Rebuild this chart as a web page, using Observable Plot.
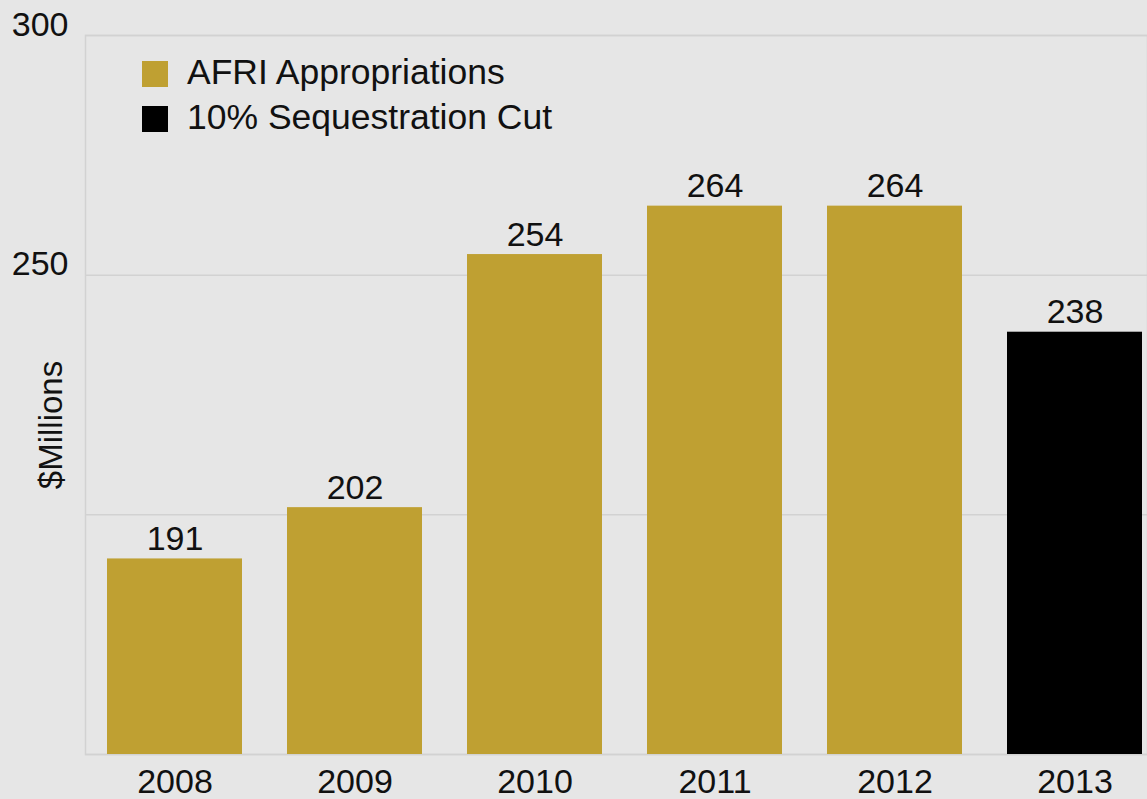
<!DOCTYPE html>
<html>
<head>
<meta charset="utf-8">
<script src="https://cdn.jsdelivr.net/npm/d3@7"></script>
<script src="https://cdn.jsdelivr.net/npm/@observablehq/plot@0.6"></script>
<style>
  html, body { margin: 0; padding: 0; background: #e6e6e6; }
  #chart { position: relative; width: 1147px; height: 799px; overflow: hidden; }
  #legend { position: absolute; left: 142px; top: 61px; font-family: "Liberation Sans", Arial, sans-serif; font-size: 35.5px; color: #111; }
  #legend .row { display: flex; align-items: center; height: 26px; margin-bottom: 19px; }
  #legend .sw { width: 26px; height: 26px; margin-right: 19px; flex-shrink: 0; }
  #legend .lbl { line-height: 26px; position: relative; top: -2px; white-space: nowrap; }
</style>
</head>
<body>
<div id="chart"></div>
<script>
// ---- data ----
const years = ["2008", "2009", "2010", "2011", "2012", "2013"];
const values = [190.8, 201.5, 254.3, 264.4, 264.4, 238.1];
const seriesOf = ["AFRI Appropriations", "AFRI Appropriations", "AFRI Appropriations", "AFRI Appropriations", "AFRI Appropriations", "10% Sequestration Cut"];
const seriesNames = ["AFRI Appropriations", "10% Sequestration Cut"];
const seriesColors = ["#bfa032", "#000000"];
const yDomain = [150, 300];
const gridTicks = [150, 200, 250, 300];
const yTickLabels = [250, 300];
const yLabel = "$Millions";

const data = years.map((year, i) => ({year, value: values[i], series: seriesOf[i]}));
const fmt = d3.format(".0f");

const chart = Plot.plot({
  width: 1147,
  height: 799,
  marginLeft: 85,
  marginRight: 0,
  marginTop: 35,
  marginBottom: 45,
  style: {background: "#e6e6e6", fontFamily: "'Liberation Sans', Arial, sans-serif", color: "#111"},
  x: {domain: years, range: [85, 1164], paddingInner: 0.25, paddingOuter: 0.1222},
  y: {domain: yDomain},
  color: {domain: seriesNames, range: seriesColors},
  marks: [
    Plot.ruleY(gridTicks, {stroke: "#d2d2d2", strokeWidth: 1.5}),
    Plot.frame({stroke: "#d2d2d2", strokeWidth: 1.5}),
    Plot.barY(data, {x: "year", y: "value", fill: "series", clip: true}),
    Plot.text(data, {x: "year", y: "value", text: d => fmt(d.value), lineAnchor: "bottom", dy: -9, fontSize: 34, fill: "#111"}),
    Plot.axisX({tickSize: 0, tickPadding: 14, fontSize: 34, label: null, fill: "#111"}),
    Plot.axisY({ticks: yTickLabels, tickSize: 0, tickPadding: 17, fontSize: 34, lineAnchor: "bottom", label: null, fill: "#111"}),
    Plot.text([yLabel], {frameAnchor: "left", rotate: -90, textAnchor: "middle", lineAnchor: "top", dx: -47, dy: 30, fontSize: 33, fill: "#111"})
  ]
});

const container = document.getElementById("chart");
container.appendChild(chart);

// legend (drawn inside the plot area, top-left)
const legend = d3.select(container).append("div").attr("id", "legend");
const rows = legend.selectAll("div.row").data(seriesNames).join("div").attr("class", "row");
rows.append("div").attr("class", "sw").style("background", (d, i) => seriesColors[i]);
rows.append("div").attr("class", "lbl").text(d => d);
</script>
</body>
</html>
